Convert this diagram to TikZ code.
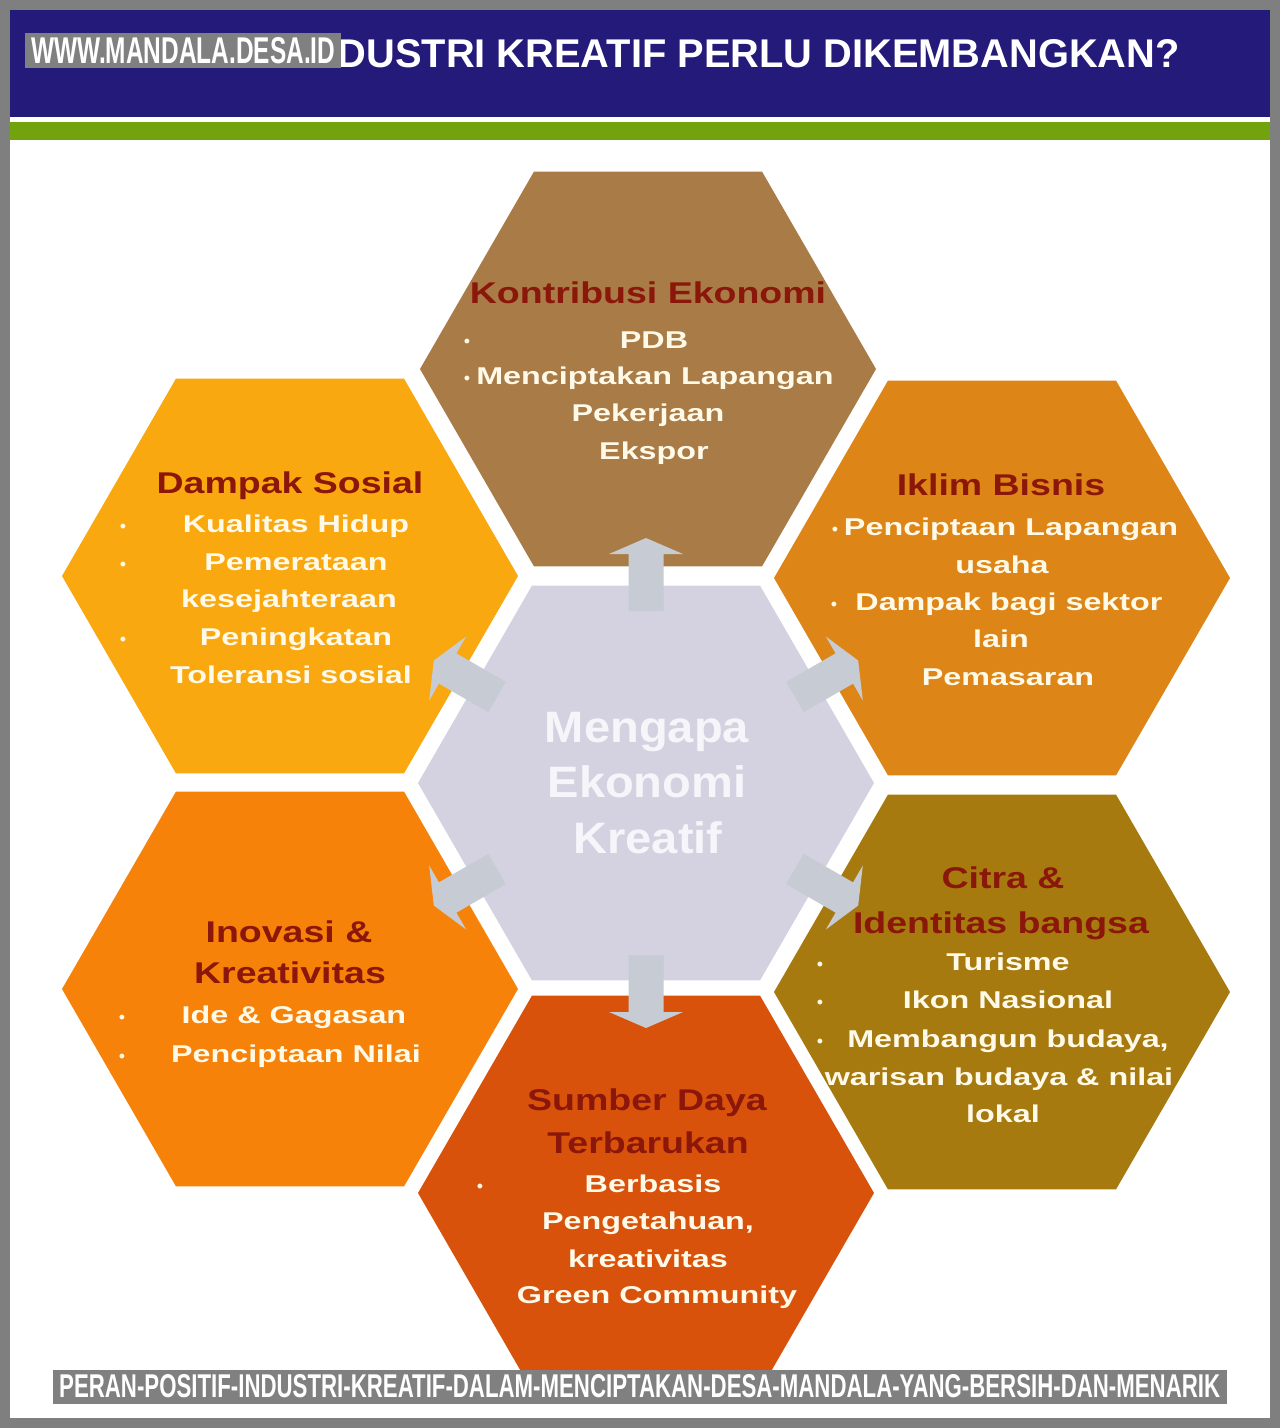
\documentclass[tikz,border=0pt]{standalone}
\usepackage{graphicx}
\usepackage{fontspec}
\setmainfont{Liberation Sans}
\newfontfamily\bodyfont{Liberation Sans}[FakeStretch=1.33]
\newfontfamily\titlefont{Liberation Sans}[FakeStretch=1.25]
\newfontfamily\centfont{Liberation Sans}[FakeStretch=1.07]
\usetikzlibrary{shapes.geometric}
\definecolor{hexbrown}{RGB}{169,123,71}
\definecolor{hexamber}{RGB}{249,168,16}
\definecolor{hexiklim}{RGB}{221,133,22}
\definecolor{hexinov}{RGB}{247,130,10}
\definecolor{hexolive}{RGB}{166,122,14}
\definecolor{hexred}{RGB}{216,82,12}
\definecolor{hexcenter}{RGB}{212,210,224}
\definecolor{arrowc}{RGB}{198,203,212}
\definecolor{ttlred}{RGB}{139,22,10}
\definecolor{cream}{RGB}{255,249,232}
\definecolor{centtext}{RGB}{246,245,250}
\definecolor{navy}{RGB}{36,26,122}
\definecolor{greenband}{RGB}{114,163,14}
\definecolor{framegray}{RGB}{127,127,127}
\definecolor{wmgray}{RGB}{128,128,128}
\begin{document}
\begin{tikzpicture}[x=1pt,y=-1pt,
 hexa/.style={regular polygon, regular polygon sides=6, minimum size=456pt, inner sep=0pt, outer sep=0pt},
 ttl/.style={font=\titlefont\bfseries\fontsize{30}{34}\selectfont, text=ttlred, anchor=base, inner sep=0pt},
 bdy/.style={font=\bodyfont\bfseries\fontsize{24.3}{28}\selectfont, text=cream, anchor=base, inner sep=0pt},
 blt/.style={font=\fontsize{18}{20}\selectfont, text=cream, anchor=base, inner sep=0pt},
 ctr/.style={font=\centfont\bfseries\fontsize{44}{50}\selectfont, text=centtext, anchor=base, inner sep=0pt},
 blockarrow/.style={fill=arrowc}
]
\useasboundingbox (0,0) rectangle (1280,1428);
\fill[framegray] (0,0) rectangle (1280,1428);
\fill[white] (10,10) rectangle (1270,1418);
\fill[navy] (10,10) rectangle (1270,117);
\fill[greenband] (10,122) rectangle (1270,140);
\node[anchor=base east, text=white, inner sep=0pt] (title) at (1180,67) {\resizebox{842pt}{28pt}{\bfseries DUSTRI KREATIF PERLU DIKEMBANGKAN?}};
\node[fill=wmgray, anchor=north west, minimum width=316pt, minimum height=35pt, inner sep=0pt] (wm) at (25,33) {};
\node[anchor=base west, text=white, inner sep=0pt] (wmtext) at (31,63) {\resizebox{304pt}{26pt}{\bfseries WWW.MANDALA.DESA.ID}};

% hexagons
\node[hexa, fill=hexbrown] (kontribusi) at (648,369) {};
\node[hexa, fill=hexamber] (dampak) at (290,576) {};
\node[hexa, fill=hexiklim] (iklim) at (1002,578) {};
\node[hexa, fill=hexcenter] (mid) at (646,783) {};
\node[hexa, fill=hexinov] (inovasi) at (290,989) {};
\node[hexa, fill=hexolive] (citra) at (1002,992) {};
\node[hexa, fill=hexred] (sumber) at (646,1193) {};

% block arrows from the centre
\foreach \a in {30,90,150,210,270,330}{
 \begin{scope}[shift={(mid.center)}, rotate=\a]
  \fill[blockarrow] (172pt,-17.5pt) -- (229pt,-17.5pt) -- (229pt,-37pt) -- (245pt,0pt) -- (229pt,37pt) -- (229pt,17.5pt) -- (172pt,17.5pt) -- cycle;
 \end{scope}}

% centre text
\node[ctr] (c1) at (647,742) {Mengapa};
\node[ctr] (c2) at (647,797) {Ekonomi};
\node[ctr] (c3) at (648,853) {Kreatif};

% Kontribusi Ekonomi
\node[ttl] (kon-t) at (648,303) {Kontribusi Ekonomi};
\node[blt] (kon-b1) at (467,347) {•};
\node[bdy] (kon-1) at (654,348) {PDB};
\node[blt] (kon-b2) at (467,384) {•};
\node[bdy] (kon-2) at (655,384) {Menciptakan Lapangan};
\node[bdy] (kon-3) at (648,421) {Pekerjaan};
\node[bdy] (kon-4) at (654,459) {Ekspor};

% Dampak Sosial
\node[ttl] (dam-t) at (290,493) {Dampak Sosial};
\node[blt] (dam-b1) at (123,532) {•};
\node[bdy] (dam-1) at (296,532) {Kualitas Hidup};
\node[blt] (dam-b2) at (123,570) {•};
\node[bdy] (dam-2) at (296,570) {Pemerataan};
\node[bdy] (dam-3) at (289,607) {kesejahteraan};
\node[blt] (dam-b3) at (123,645) {•};
\node[bdy] (dam-4) at (296,645) {Peningkatan};
\node[bdy] (dam-5) at (291,683) {Toleransi sosial};

% Iklim Bisnis
\node[ttl] (ikl-t) at (1001,495) {Iklim Bisnis};
\node[blt] (ikl-b1) at (835,535) {•};
\node[bdy] (ikl-1) at (1011,535) {Penciptaan Lapangan};
\node[bdy] (ikl-2) at (1002,573) {usaha};
\node[blt] (ikl-b2) at (834,610) {•};
\node[bdy] (ikl-3) at (1009,610) {Dampak bagi sektor};
\node[bdy] (ikl-4) at (1001,647) {lain};
\node[bdy] (ikl-5) at (1008,685) {Pemasaran};

% Inovasi & Kreativitas
\node[ttl] (ino-t1) at (289,942) {Inovasi \&};
\node[ttl] (ino-t2) at (290,983) {Kreativitas};
\node[blt] (ino-b1) at (122,1023) {•};
\node[bdy] (ino-1) at (294,1023) {Ide \& Gagasan};
\node[blt] (ino-b2) at (122,1062) {•};
\node[bdy] (ino-2) at (296,1062) {Penciptaan Nilai};

% Citra & Identitas bangsa
\node[ttl] (cit-t1) at (1003,888) {Citra \&};
\node[ttl] (cit-t2) at (1001,933) {Identitas bangsa};
\node[blt] (cit-b1) at (820,970) {•};
\node[bdy] (cit-1) at (1008,970) {Turisme};
\node[blt] (cit-b2) at (820,1008) {•};
\node[bdy] (cit-2) at (1008,1008) {Ikon Nasional};
\node[blt] (cit-b3) at (820,1047) {•};
\node[bdy] (cit-3) at (1008,1047) {Membangun budaya,};
\node[bdy] (cit-4) at (999,1085) {warisan budaya \& nilai};
\node[bdy] (cit-5) at (1003,1122) {lokal};

% Sumber Daya Terbarukan
\node[ttl] (sum-t1) at (647,1110) {Sumber Daya};
\node[ttl] (sum-t2) at (648,1153) {Terbarukan};
\node[blt] (sum-b1) at (480,1192) {•};
\node[bdy] (sum-1) at (653,1192) {Berbasis};
\node[bdy] (sum-2) at (648,1229) {Pengetahuan,};
\node[bdy] (sum-3) at (648,1267) {kreativitas};
\node[bdy] (sum-4) at (657,1303) {Green Community};

% caption
\node[fill=wmgray, anchor=north west, minimum width=1174pt, minimum height=34pt, inner sep=0pt] (capbox) at (53,1370) {};
\node[anchor=base west, text=white, inner sep=0pt] (captext) at (59,1397) {\resizebox{1161pt}{23pt}{\bfseries PERAN-POSITIF-INDUSTRI-KREATIF-DALAM-MENCIPTAKAN-DESA-MANDALA-YANG-BERSIH-DAN-MENARIK}};
\end{tikzpicture}
\end{document}
